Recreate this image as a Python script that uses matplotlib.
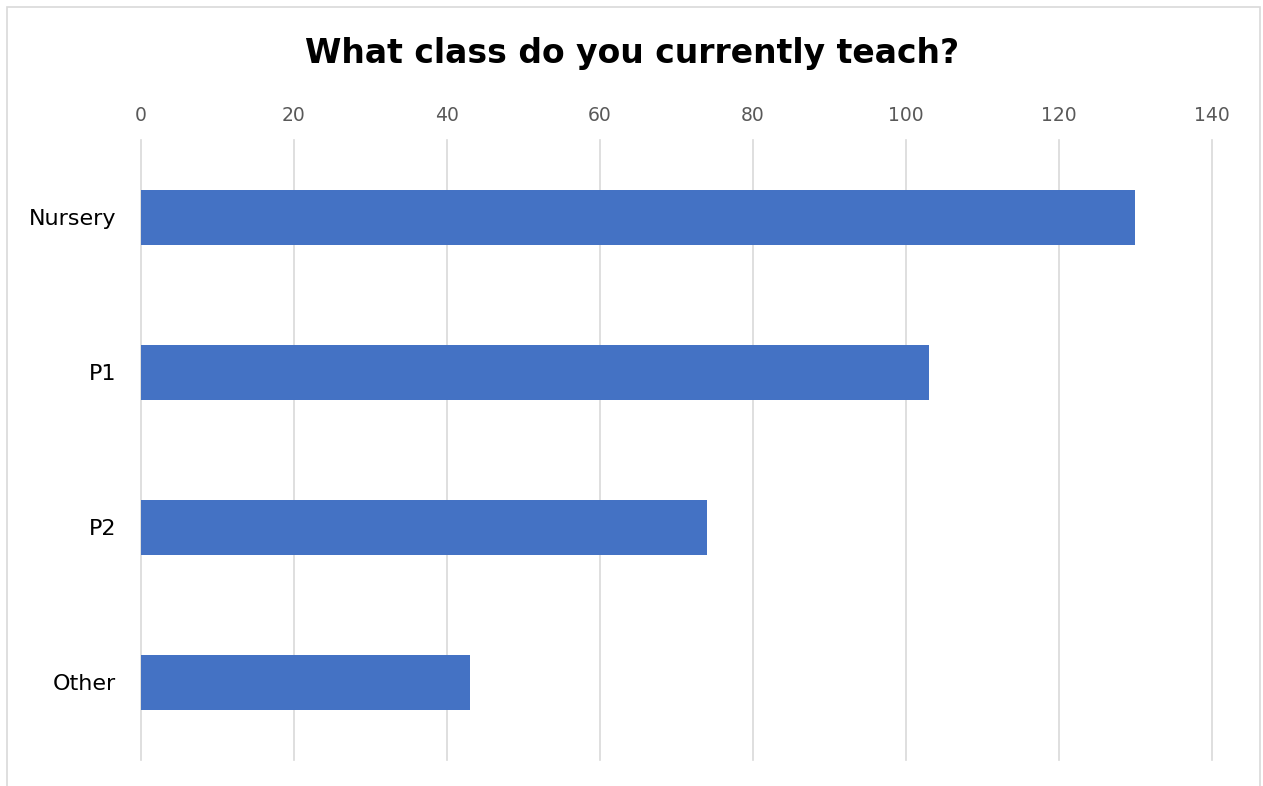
import matplotlib
matplotlib.use('Agg')
import matplotlib.pyplot as plt
from matplotlib.patches import Rectangle

categories = ['Nursery', 'P1', 'P2', 'Other']
counts = [130, 103, 74, 43]
xticks = [0, 20, 40, 60, 80, 100, 120, 140]

fig = plt.figure(figsize=(12.63, 7.86), dpi=100)
ax = fig.add_axes([0.1116, 0.0331, 0.848, 0.7888])

# chart border like excel
fig.patches.append(Rectangle((7/1263, -0.01), 1253/1263, 1 - 7/786 + 0.01,
                             transform=fig.transFigure, fill=False,
                             edgecolor='#d9d9d9', lw=1.2))

ypos = list(range(len(categories)))
ax.barh(ypos, counts, height=0.35, color='#4472c4', zorder=3)
ax.set_ylim(len(categories) - 0.5, -0.5)
ax.set_yticks(ypos)
ax.set_yticklabels(categories, fontsize=16, color='black')

ax.set_xlim(0, 140)
ax.set_xticks(xticks)
ax.xaxis.tick_top()
ax.tick_params(axis='x', labelsize=13.5, colors='#595959', length=0, pad=11)
ax.tick_params(axis='y', length=0, pad=18)
ax.grid(axis='x', color='#d9d9d9', lw=1.2, zorder=0)
for line in ax.get_xgridlines():
    line.set_clip_on(False)
for s in ax.spines.values():
    s.set_visible(False)

fig.text(0.5 + 1/1263, 1 - 53/786, 'What class do you currently teach?', ha='center', va='center',
         fontsize=23.8, fontweight='bold')

fig.savefig('out.png', dpi=100)
